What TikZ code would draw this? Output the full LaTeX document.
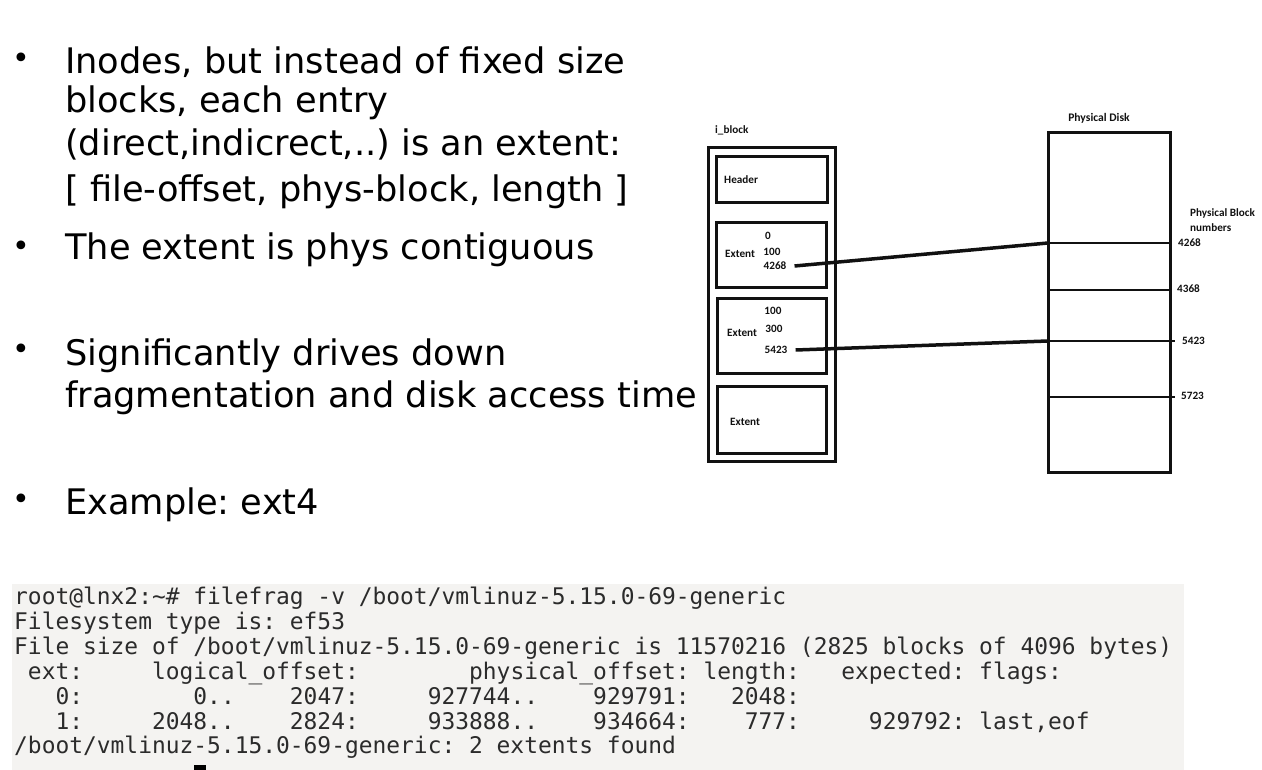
\documentclass[tikz,border=0pt]{standalone}
\usepackage{fontspec}
\setmainfont{DejaVu Sans}
\newfontfamily\diagfont{Carlito}
\newfontfamily\termfont{DejaVu Sans Mono}
\definecolor{termbg}{HTML}{F4F3F1}
\definecolor{termtxt}{HTML}{2B2B2B}
\definecolor{inkblack}{HTML}{111111}
\begin{document}
\frenchspacing
\begin{tikzpicture}[x=1pt,y=-1pt,
  bullettext/.style={anchor=base west, inner sep=0pt, font=\fontsize{35.2}{40}\selectfont},
  bulletdot/.style={anchor=center, inner sep=0pt, font=\fontsize{30}{32}\selectfont},
  termline/.style={anchor=base west, inner sep=0pt, text=termtxt, font=\termfont\fontsize{22.9}{25}\selectfont},
  blockbox/.style={draw=inkblack, line width=3pt, inner sep=0pt, rectangle},
  disklabel/.style={inner sep=0pt, text=inkblack, font=\diagfont\bfseries\fontsize{11.6}{13}\selectfont},
  boxlabel/.style={inner sep=0pt, text=inkblack, font=\diagfont\bfseries\fontsize{11.2}{13}\selectfont},
  divider/.style={draw=inkblack, line width=2.8pt},
  pointer/.style={draw=inkblack, line width=3.5pt}
]
\useasboundingbox (0,0) rectangle (1262,770);

% ---------- bullet text ----------
\node[bulletdot] (d1) at (21,61) {•};
\node[bullettext] (t1a) at (65,74) {Inodes, but instead of fixed size};
\node[bullettext] (t1b) at (65,113) {blocks, each entry};
\node[bullettext] (t1c) at (65,156) {(direct,indicrect,..) is an extent:};
\node[bullettext] (t1d) at (65,202) {[ file-offset, phys-block, length ]};
\node[bulletdot] (d2) at (21,249) {•};
\node[bullettext] (t2) at (65,260) {The extent is phys contiguous};
\node[bulletdot] (d3) at (21,352) {•};
\node[bullettext] (t3a) at (65,365) {Significantly drives down};
\node[bullettext] (t3b) at (65,407) {fragmentation and disk access time};
\node[bulletdot] (d4) at (21,502) {•};
\node[bullettext] (t4) at (65,514) {Example: ext4};

% ---------- i_block ----------
\node[boxlabel, anchor=west] (iblk) at (715,130) {i\_block};
\node[blockbox, minimum width=127pt, minimum height=313pt] (outer) at (771.5,304.5) {};
\node[blockbox, minimum width=111pt, minimum height=46pt] (hdr) at (771.5,180) {};
\node[boxlabel, anchor=west] (hdrl) at (724,180) {Header};
\node[blockbox, minimum width=110pt, minimum height=65pt] (ext1) at (771,255.5) {};
\node[boxlabel, anchor=west] (ext1l) at (725,254) {Extent};
\node[boxlabel] (e1a) at (768,236) {0};
\node[boxlabel] (e1b) at (772,252) {100};
\node[boxlabel] (e1c) at (775,266) {4268};
\node[blockbox, minimum width=109pt, minimum height=74pt] (ext2) at (771.5,336) {};
\node[boxlabel, anchor=west] (ext2l) at (727,333) {Extent};
\node[boxlabel] (e2a) at (773,311) {100};
\node[boxlabel] (e2b) at (774,329) {300};
\node[boxlabel] (e2c) at (776,350) {5423};
\node[blockbox, minimum width=109pt, minimum height=67pt] (ext3) at (771.5,419.5) {};
\node[boxlabel, anchor=west] (ext3l) at (730,422) {Extent};

% ---------- physical disk ----------
\node[disklabel] (pdl) at (1099,118) {Physical Disk};
\node[blockbox, minimum width=122pt, minimum height=339pt] (disk) at (1109,302.5) {};
\coordinate (r1l) at (1048,243); \coordinate (r1r) at (1171,243);
\coordinate (r2l) at (1048,290); \coordinate (r2r) at (1171,290);
\coordinate (r3l) at (1048,341); \coordinate (r3r) at (1175,341);
\coordinate (r4l) at (1048,397); \coordinate (r4r) at (1175,397);
\draw[divider] (r1l) -- (r1r);
\draw[divider] (r2l) -- (r2r);
\draw[divider] (r3l) -- (r3r);
\draw[divider] (r4l) -- (r4r);
\node[disklabel, anchor=west, align=left, font=\diagfont\bfseries\fontsize{11.2}{14.5}\selectfont] (pbn) at (1190,220) {Physical Block\\numbers};
\node[boxlabel, anchor=west] (n1) at (1178,243) {4268};
\node[boxlabel, anchor=west] (n2) at (1177,289) {4368};
\node[boxlabel, anchor=west] (n3) at (1182,341) {5423};
\node[boxlabel, anchor=west] (n4) at (1181,396) {5723};

% ---------- pointers ----------
\draw[pointer] ([xshift=8pt]e1c.east) -- (r1l);
\draw[pointer] ([xshift=8pt]e2c.east) -- (r3l);

% ---------- terminal ----------
\fill[termbg] (12,584) rectangle (1184,770);
\node[termline] (l1) at (14,604) {root@lnx2:\textasciitilde\#~filefrag~-v~/boot/vmlinuz-5.15.0-69-generic};
\node[termline] (l2) at (14,629) {Filesystem~type~is:~ef53};
\node[termline] (l3) at (14,654) {File~size~of~/boot/vmlinuz-5.15.0-69-generic~is~11570216~(2825~blocks~of~4096~bytes)};
\node[termline] (l4) at (14,679) {~ext:~~~~~logical\_offset:~~~~~~~~physical\_offset:~length:~~~expected:~flags:};
\node[termline] (l5) at (14,704) {~~~0:~~~~~~~~0..~~~~2047:~~~~~927744..~~~~929791:~~~2048:};
\node[termline] (l6) at (14,729) {~~~1:~~~~~2048..~~~~2824:~~~~~933888..~~~~934664:~~~~777:~~~~~929792:~last,eof};
\node[termline] (l7) at (14,753) {/boot/vmlinuz-5.15.0-69-generic:~2~extents~found};
\fill[black] (194,765) rectangle (206,770);
\end{tikzpicture}
\end{document}
